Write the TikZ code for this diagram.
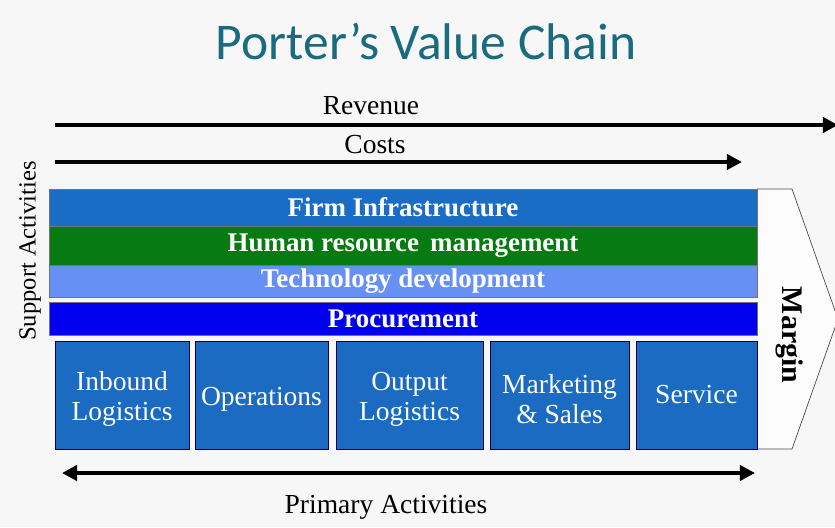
\documentclass[tikz,border=0pt]{standalone}
\usepackage{fontspec}
\setmainfont{Liberation Serif}
\newfontfamily\titlefont{Carlito}
\usetikzlibrary{arrows.meta}

\definecolor{titleteal}{HTML}{1A6B80}
\definecolor{infrablue}{HTML}{1B6CC4}
\definecolor{hrgreen}{HTML}{077A12}
\definecolor{techblue}{HTML}{6690F4}
\definecolor{procblue}{HTML}{0000EE}
\definecolor{primblue}{HTML}{1B6BC3}

\newcommand{\boxlift}{\rule{0pt}{23pt}}

\tikzset{
  flowarrow/.style={line width=3.4pt, -{Triangle[length=13pt,width=13pt]}},
  supportbar/.style={draw=black!55, line width=0.6pt, text=white, inner sep=0pt,
    minimum width=21.24cm, font=\bfseries\fontsize{23}{25}\selectfont},
  primbox/.style={draw=black!70!blue, line width=0.6pt, fill=primblue, text=white,
    inner sep=0pt, minimum height=3.24cm, align=center,
    font=\fontsize{23.5}{26}\selectfont},
  plainlabel/.style={font=\fontsize{23.5}{26}\selectfont}
}

\begin{document}
\begin{tikzpicture}[x=0.03cm,y=-0.03cm]
    \useasboundingbox (0,0) rectangle (835,527);
    \fill[white!97!black] (0,0) rectangle (835,527);

    % title
    \node[text=titleteal, font=\titlefont\fontsize{44}{48}\selectfont] (title) at (426,42) {Porter’s Value Chain};

    % revenue and costs
    \coordinate (revL) at (55,125);
    \coordinate (revR) at (838,125);
    \draw[flowarrow] (revL) -- (revR);
    \node[plainlabel] (revenue) at (371,106) {Revenue};

    \coordinate (costL) at (55,162);
    \coordinate (costR) at (742,162);
    \draw[flowarrow] (costL) -- (costR);
    \node[plainlabel] (costs) at (375,145) {Costs};

    % margin chevron
    \begin{scope}
        \clip (0,0) rectangle (835,527);
        \draw[black!70, line width=0.6pt, fill=white!99!black] (757,189) -- (792,189) -- (838,319) -- (792,449) -- (757,449);
    \end{scope}
    \node[rotate=-90, font=\bfseries\fontsize{25.5}{27}\selectfont] (margin) at (790,335) {Margin};

    % support activities
    \node[rotate=90, font=\fontsize{21}{24}\selectfont] (support) at (30,251) {Support Activities};
    \node[supportbar, fill=infrablue, minimum height=1.11cm] (infra) at (403,207.5) {Firm Infrastructure};
    \node[supportbar, fill=hrgreen, minimum height=1.17cm] (hrm) at (403,245.5) {Human resource\, management};
    \node[supportbar, fill=techblue, minimum height=0.96cm] (tech) at (403,281) {Technology development};
    \node[supportbar, fill=procblue, minimum height=0.99cm] (proc) at (403,318.5) {Procurement};

    % primary activities
    \node[primbox, minimum width=4.02cm] (inbound) at (122,395) {\boxlift Inbound\\Logistics};
    \node[primbox, minimum width=3.99cm] (operations) at (261.5,395) {\boxlift Operations};
    \node[primbox, minimum width=4.41cm] (outbound) at (409.5,395) {\boxlift Output\\Logistics};
    \node[primbox, minimum width=4.17cm] (marketing) at (559.5,395) {\boxlift Marketing\\\& Sales};
    \node[primbox, minimum width=3.63cm] (service) at (696.5,395) {Service};

    \coordinate (primL) at (62,473);
    \coordinate (primR) at (755,473);
    \draw[flowarrow, {Triangle[length=13pt,width=13pt]}-{Triangle[length=13pt,width=13pt]}] (primL) -- (primR);
    \node[plainlabel] (primary) at (386,507) {Primary Activities};
\end{tikzpicture}
\end{document}
